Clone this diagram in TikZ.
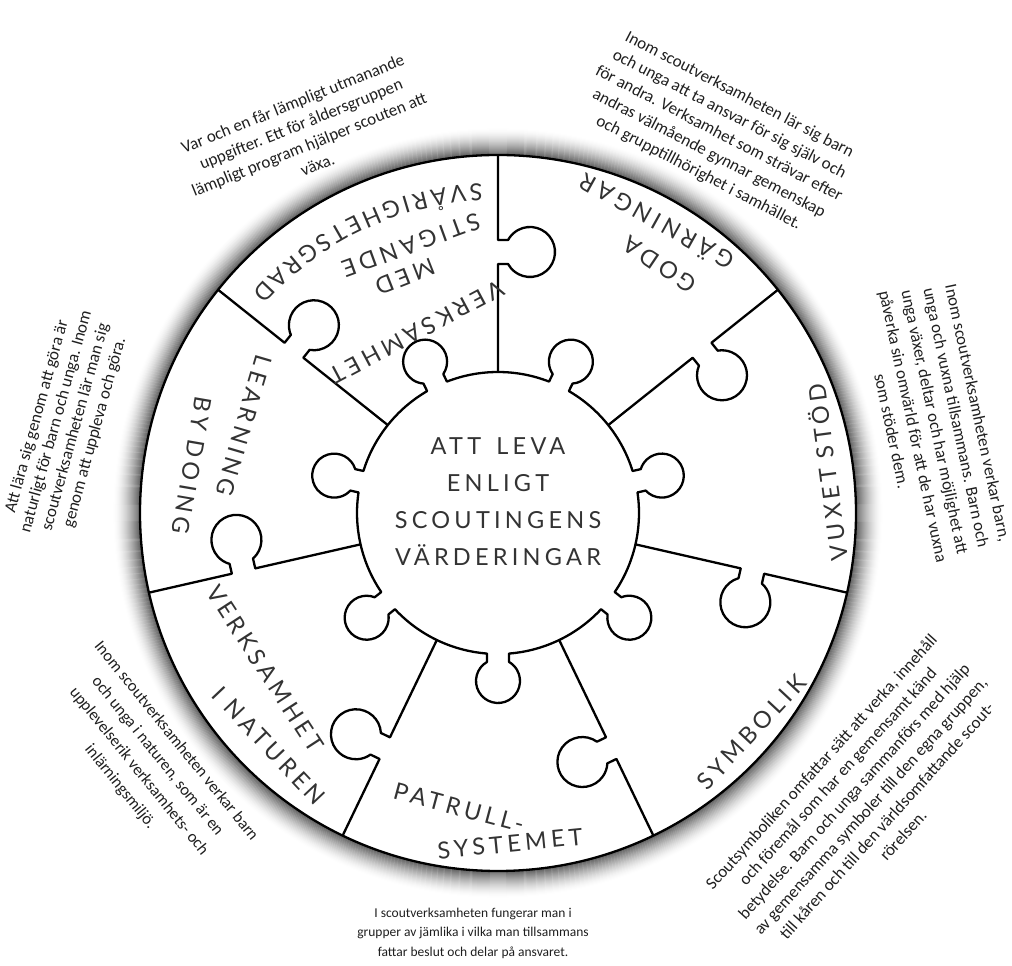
\documentclass[tikz,border=0pt]{standalone}
\usepackage{fontspec}
\setmainfont{Carlito}
\newfontfamily\labfam[LetterSpace=18]{Lato}
\newfontfamily\labfamc{Lato}
\usetikzlibrary{calc}
\definecolor{labgray}{gray}{0.2}
\definecolor{txtgray}{gray}{0.12}
\newcommand\labfont{\labfam\fontsize{23.5}{36.7}\selectfont}
\newcommand\labfontc{\labfamc\fontsize{23.5}{28}\selectfont}
\newcommand\descfont{\fontsize{17}{22}\selectfont}
\newlength\chw
\newsavebox\chbox
\def\lsp{4.2}
\newcommand\measurech[1]{%
  \pgfinterruptpicture
  \sbox\chbox{\labfontc #1}%
  \global\chw=\wd\chbox
  \endpgfinterruptpicture}
% curved label: #1 centre angle, #2 baseline radius, #3 comma list of letters
\newcommand\arclab[3]{%
  \gdef\arctot{0}%
  \foreach \lch in {#3}{%
    \measurech{\lch}%
    \pgfmathsetmacro\tmpw{\arctot+\chw+\lsp}%
    \xdef\arctot{\tmpw}%
  }%
  \pgfmathsetmacro\tmpw{-(\arctot-\lsp)/2}%
  \xdef\arcs{\tmpw}%
  \foreach \lch in {#3}{%
    \measurech{\lch}%
    \pgfmathsetmacro\th{#1+(\arcs+0.5*\chw)/#2*180/pi}%
    \path (\th:#2) node[arcchar, rotate=\th+90] {\lch};%
    \pgfmathsetmacro\tmpw{\arcs+\chw+\lsp}%
    \xdef\arcs{\tmpw}%
  }%
}
\tikzset{
  piece/.style={draw=black,line width=2.3pt,line join=round},
  desc/.style={font=\descfont,align=center,text=txtgray,inner sep=0pt},
  midtext/.style={font=\labfont,align=center,text=labgray,inner sep=0pt},
  slab/.style={font=\labfont,text=labgray,inner sep=0pt,anchor=base},
  arcchar/.style={anchor=base,inner sep=0pt,font=\labfontc,text=labgray}
}
\begin{document}
\begin{tikzpicture}[x=1pt,y=1pt]
\useasboundingbox (0,0) rectangle (1012,966);
\coordinate (C) at (498,453);
% soft shadow round the disc
\foreach \i in {1,...,26}{
  \pgfmathsetmacro\g{66*(1-\i/27)^1.6}
  \draw[black!\g, line width=1.3pt] (C) circle[radius=358+\i];
}
\draw[piece, fill=white] (C) circle[radius=358];
\begin{scope}[shift={(C)}]
% radial joints with jigsaw tabs
\foreach \j in {0,...,6}{
  \begin{scope}[rotate={90-51.4286*\j}]
  \draw[piece] (141,0) -- (249,0) -- (249,-10.07) arc[start angle=118.7, end angle=421.3, radius=25] -- (273,0) -- (358,0);
  \end{scope}
}
% central piece with seven knobs
\draw[piece, fill=white] (-34.10:141) \foreach \k in {0,...,6}{
  arc[start angle={-34.10+51.4286*\k}, end angle={8.387+51.4286*\k}, radius=141]
  -- ([rotate={12.857+51.4286*\k}]148.95,-11)
  arc[start angle={12.857+51.4286*\k-150}, end angle={12.857+51.4286*\k+150}, radius=22]
  -- ({17.327+51.4286*\k}:141) } -- cycle;
% curved outer line of the upper-left segment
\arclab{115.5}{330}{S,V,Å,R,I,G,H,E,T,S,G,R,A,D}
\end{scope}
% straight segment labels
\node[slab, rotate=208] (lA1) at ($(417,634)+(118:8.5)$) {VERKSAMHET};
\node[slab, rotate=201.5] (lA2) at ($(405,689)+(111.5:8.5)$) {MED};
\node[slab, rotate=200] (lA3) at ($(411,721)+(110:8.5)$) {STIGANDE};
\node[slab, rotate=146] (lB1) at ($(660,701)+(56:8.5)$) {GODA};
\node[slab, rotate=151] (lB2) at ($(657,745)+(61:8.5)$) {GÄRNINGAR};
\node[slab, rotate=97.5] (lC) at ($(828,494)+(7.5:8.5)$) {VUXET STÖD};
\node[slab, rotate=47] (lD) at ($(751.5,233.8)+(-43:8.5)$) {SYMBOLIK};
\node[slab, rotate=-15] (lE1) at ($(459,158.5)+(-105:8.5)$) {PATRULL-};
\node[slab, rotate=5.7] (lE2) at ($(510,122.5)+(-84.3:8.5)$) {SYSTEMET};
\node[slab, rotate=-57] (lF1) at ($(265,297.5)+(-147:8.5)$) {VERKSAMHET};
\node[slab, rotate=-46.6] (lF2) at ($(269,220)+(-136.6:8.5)$) {I NATUREN};
\node[slab, rotate=-106.4] (lG1) at ($(244,540)+(-196.4:8.5)$) {LEARNING};
\node[slab, rotate=-99.8] (lG2) at ($(192,500.5)+(-189.8:8.5)$) {BY DOING};
\node[midtext] (ctr) at (498,464.3) {ATT\hspace{5pt} LEVA\\ENLIGT\\SCOUTINGENS\\VÄRDERINGAR};
% descriptions
\node[desc, rotate=22] (dA) at (305,832) {Var och en får lämpligt utmanande\\uppgifter. Ett för åldersgruppen\\lämpligt program hjälper scouten att\\växa.};
\node[desc, rotate=-27.5] (dB) at (719,832) {Inom scoutverksamheten lär sig barn\\och unga att ta ansvar för sig själv och\\för andra. Verksamhet som strävar efter\\andras välmående gynnar gemenskap\\och grupptillhörighet i samhället.};
\node[desc, rotate=-78] (dC) at (935,544) {Inom scoutverksamheten verkar barn,\\unga och vuxna tillsammans. Barn och\\unga växer, deltar och har möjlighet att\\påverka sin omvärld för att de har vuxna\\som stöder dem.};
\node[desc, rotate=48] (dD) at (862,167.5) {Scoutsymboliken omfattar sätt att verka, innehåll\\och föremål som har en gemensamt känd\\betydelse. Barn och unga sammanförs med hjälp\\av gemensamma symboler till den egna gruppen,\\till kåren och till den världsomfattande scout-\\rörelsen.};
\node[desc, font=\fontsize{13.5}{19.5}\selectfont] (dP) at (473,33) {I scoutverksamheten fungerar man i\\grupper av jämlika i vilka man tillsammans\\fattar beslut och delar på ansvaret.};
\node[desc, font=\fontsize{16.5}{24}\selectfont, rotate=-51] (dN) at (148,202) {Inom scoutverksamheten verkar barn\\och unga i naturen, som är en\\upplevelserik verksamhets- och\\inlärningsmiljö.};
\node[desc, font=\fontsize{17}{20}\selectfont, rotate=74.5] (dL) at (66,541.5) {Att lära sig genom att göra är\\naturligt för barn och unga. Inom\\scoutverksamheten lär man sig\\genom att uppleva och göra.};
\end{tikzpicture}
\end{document}
